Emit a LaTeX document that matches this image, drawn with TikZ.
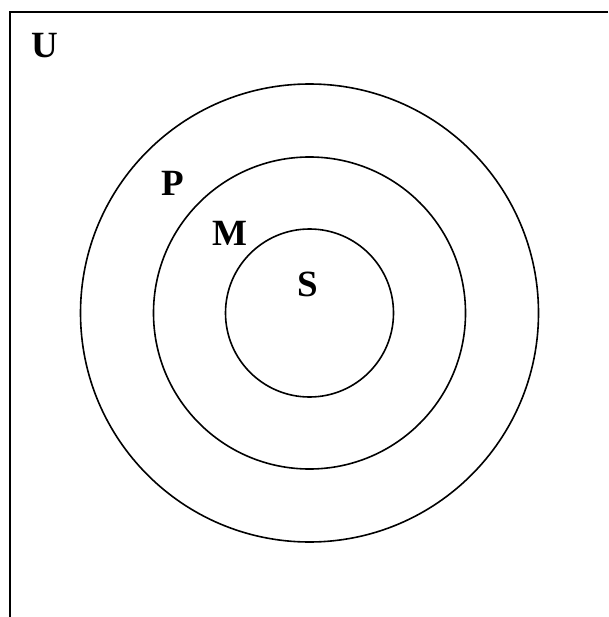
\documentclass[tikz,border=0pt]{standalone}
\usepackage{fontspec}
\setmainfont{Liberation Serif}
\begin{document}
\begin{tikzpicture}[x=1pt,y=-1pt,
  ring/.style={circle,draw,line width=1.6pt,inner sep=0pt},
  lbl/.style={font=\fontsize{37}{37}\selectfont\bfseries,inner sep=0pt}]
\useasboundingbox (0,0) rectangle (608,617);
\draw[line width=1.7pt] (608,12) -- (10,12) -- (10,617);
\node[ring,minimum size=458pt] (P) at (309.5,313) {};
\node[ring,minimum size=312pt] (M) at (309.5,313) {};
\node[ring,minimum size=168pt] (S) at (309.5,313) {};
\node[lbl] (lu) at (45,46) {U};
\node[lbl] (lp) at (173,183) {P};
\node[lbl] (lm) at (230,233) {M};
\node[lbl] (ls) at (308,284) {S};
\end{tikzpicture}
\end{document}
